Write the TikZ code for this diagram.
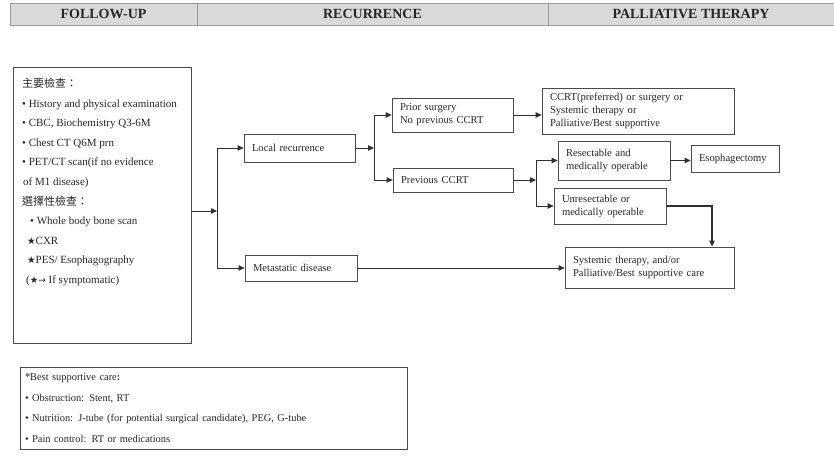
\documentclass[tikz,border=0pt]{standalone}
\usepackage{fontspec}
\setmainfont{Liberation Serif}
\newfontfamily\cjk{Noto Sans CJK TC}
\newfontfamily\symf{DejaVu Sans}
\usepackage{tikz}
\usetikzlibrary{positioning, arrows.meta, calc}
\definecolor{boxGray}{HTML}{4A4A4A}
\definecolor{lineGray}{HTML}{303030}
\definecolor{hdrFill}{HTML}{D9D9D9}
\definecolor{hdrLine}{HTML}{9A9A9A}
\definecolor{txtDark}{HTML}{262626}
\tikzset{
  hdrcell/.style={rectangle, draw=hdrLine, fill=hdrFill, minimum height=22pt,
    inner sep=0pt, text=txtDark, font=\fontsize{14}{14}\selectfont\bfseries},
  flowbox/.style={rectangle, draw=boxGray, line width=0.8pt, align=left,
    inner xsep=8pt, inner ysep=2pt, text=txtDark,
    font=\fontsize{10.6}{13}\selectfont},
  bigbox/.style={rectangle, draw=boxGray, line width=0.8pt, inner sep=0pt},
  futext/.style={align=left, inner sep=0pt, text=txtDark,
    font=\fontsize{11}{19.6}\selectfont},
  notebox/.style={rectangle, draw=boxGray, line width=0.8pt, align=left,
    inner xsep=5pt, text=txtDark, font=\fontsize{10.4}{20.7}\selectfont},
  arrowline/.style={-{Triangle[length=6pt,width=5.5pt]}, line width=0.8pt,
    draw=lineGray},
  plainline/.style={line width=0.8pt, draw=lineGray},
}
\newcommand{\starmark}{{\symf\fontsize{9.5}{9.5}\selectfont ★}}
\newcommand{\arrowmark}{{\symf\fontsize{9}{9}\selectfont →}}
\begin{document}
\begin{tikzpicture}[x=1pt, y=-1pt]
  \useasboundingbox (0,0) rectangle (834,455);
  % header band
  \node[hdrcell, minimum width=187pt] (hdrFollow) at (103.5,14) {FOLLOW-UP};
  \node[hdrcell, minimum width=351pt] (hdrRecur) at (372.5,14) {RECURRENCE};
  \node[hdrcell, minimum width=286pt] (hdrPall) at (691,14) {PALLIATIVE THERAPY};

  % follow-up box
  \node[bigbox, anchor=north west, minimum width=178pt, minimum height=276pt]
    (fuBox) at (13,67) {};
  \node[futext, anchor=north west] (fuText) at (22,78)
    {{\cjk 主要檢查：}\\
     • History and physical examination\\
     • CBC, Biochemistry Q3-6M\\
     • Chest CT Q6M prn\\
     • PET/CT scan(if no evidence\\
     \hspace*{1pt}of M1 disease)\\
     {\cjk 選擇性檢查：}\\
     \hspace*{8pt}• Whole body bone scan\\
     \hspace*{5pt}\starmark CXR\\
     \hspace*{5pt}\starmark PES/ Esophagography\\
     \hspace*{4pt}(\starmark\arrowmark\ If symptomatic)};

  % recurrence
  \node[flowbox, minimum width=111pt, text width=95pt, minimum height=28pt]
    (local) at (299.5,148) {Local recurrence};
  \node[flowbox, minimum width=112pt, text width=96pt, minimum height=26pt]
    (meta) at (301,268) {Metastatic disease};
  \node[flowbox, minimum width=121pt, text width=105pt, minimum height=34pt]
    (prior) at (452.5,115) {Prior surgery\\ No previous CCRT};
  \node[flowbox, minimum width=120pt, text width=104pt, minimum height=24pt]
    (prevccrt) at (453,180) {Previous CCRT};

  % palliative therapy
  \node[flowbox, minimum width=192pt, text width=176pt, minimum height=46pt]
    (ccrt) at (638,111)
    {CCRT(preferred) or surgery or\\ Systemic therapy or\\
     Palliative/Best supportive};
  \node[flowbox, minimum width=112pt, text width=96pt, minimum height=39pt]
    (resect) at (614,160.5) {Resectable and\\ medically operable};
  \node[flowbox, minimum width=88pt, text width=72pt, minimum height=27pt]
    (esoph) at (735,158.5) {Esophagectomy};
  \node[flowbox, minimum width=112pt, text width=96pt, minimum height=36pt]
    (unresect) at (610,206) {Unresectable or\\ medically operable};
  \node[flowbox, minimum width=169pt, text width=153pt, minimum height=41pt]
    (systemic) at (649.5,267.5)
    {Systemic therapy, and/or\\ Palliative/Best supportive care};

  % best supportive care notes
  \node[notebox, minimum width=387pt, text width=377pt, minimum height=82pt]
    (notes) at (213.5,408)
    {*Best supportive care{\bfseries :}\\
     • Obstruction: Stent, RT\\
     • Nutrition: J-tube (for potential surgical candidate), PEG, G-tube\\
     • Pain control: RT or medications};

  % connectors
  \coordinate (jA) at (217,211);
  \coordinate (jB) at (374,148);
  \coordinate (jC) at (536,180);
  \coordinate (jD) at (712,209);
  \draw[arrowline] (fuBox.east |- jA) -- (jA);
  \draw[plainline] (jA |- local) -- (jA |- meta);
  \draw[arrowline] (jA |- local) -- (local);
  \draw[arrowline] (jA |- meta) -- (meta);
  \draw[arrowline] (local) -- (jB);
  \draw[plainline] (jB |- prior) -- (jB |- prevccrt);
  \draw[arrowline] (jB |- prior) -- (prior);
  \draw[arrowline] (jB |- prevccrt) -- (prevccrt);
  \draw[arrowline] (prior.east) -- (prior.east -| ccrt.west);
  \draw[arrowline] (prevccrt) -- (jC);
  \draw[plainline] (jC |- resect) -- (jC |- unresect);
  \draw[arrowline] (jC |- resect) -- (resect);
  \draw[arrowline] (jC |- unresect) -- (unresect);
  \draw[arrowline] (resect.east) -- (resect.east -| esoph.west);
  \draw[arrowline, line width=1.2pt] (unresect.east) -| (jD |- systemic.north);
  \draw[arrowline] (meta.east) -- (meta.east -| systemic.west);
\end{tikzpicture}
\end{document}
